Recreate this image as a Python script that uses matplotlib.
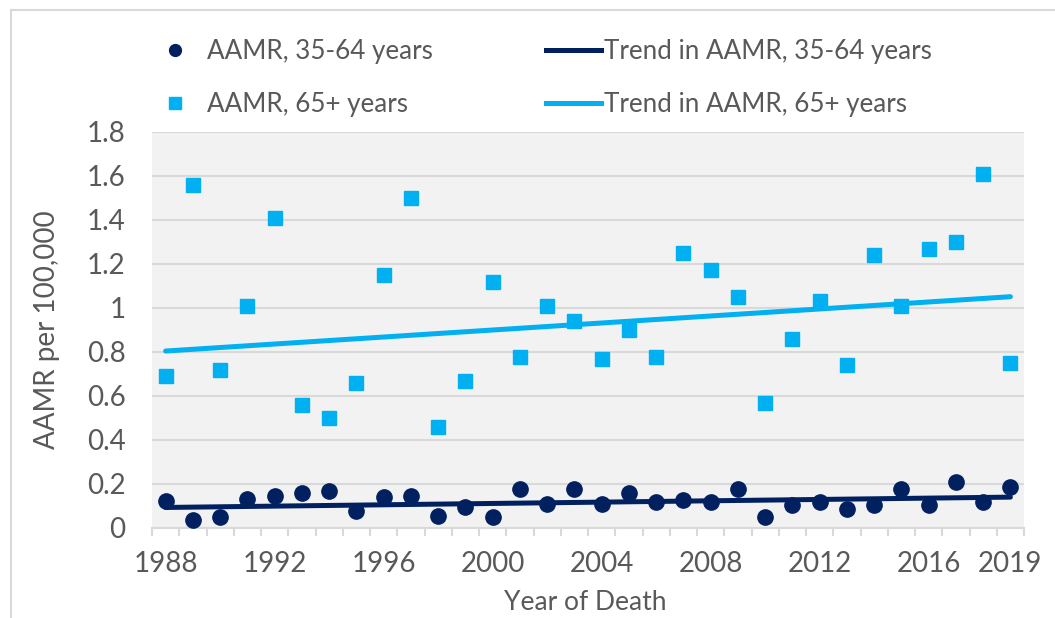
import matplotlib
matplotlib.use("Agg")
import matplotlib.pyplot as plt
from matplotlib.lines import Line2D
from matplotlib.ticker import FuncFormatter
import numpy as np

# ---- data -------------------------------------------------------------
years = list(range(1988, 2020))
aamr_35_64 = [0.120, 0.036, 0.047, 0.129, 0.145, 0.158, 0.167, 0.076,
              0.139, 0.145, 0.055, 0.095, 0.047, 0.177, 0.106, 0.177,
              0.106, 0.159, 0.117, 0.127, 0.117, 0.177, 0.047, 0.103,
              0.117, 0.085, 0.103, 0.177, 0.103, 0.206, 0.115, 0.186]
aamr_65_plus = [0.688, 1.559, 0.717, 1.008, 1.409, 0.559, 0.497, 0.659,
                1.150, 1.500, 0.458, 0.667, 1.118, 0.777, 1.008, 0.939,
                0.768, 0.898, 0.777, 1.250, 1.170, 1.048, 0.567, 0.858,
                1.029, 0.738, 1.239, 1.008, 1.268, 1.300, 1.609, 0.747]
trend_years = [1988, 2019]
trend_35_64 = [0.092, 0.139]
trend_65_plus = [0.803, 1.050]

y_ticks = [0, 0.2, 0.4, 0.6, 0.8, 1.0, 1.2, 1.4, 1.6, 1.8]
x_tick_years = [1988, 1992, 1996, 2000, 2004, 2008, 2012, 2016, 2019]

series_labels = ["AAMR, 35-64 years", "AAMR, 65+ years"]
trend_labels = ["Trend in AAMR, 35-64 years", "Trend in AAMR, 65+ years"]

# ---- style ------------------------------------------------------------
NAVY = "#002060"
CYAN = "#00B0F0"
TEXT = "#595959"
GRID = "#D9D9D9"
PANEL = "#F2F2F2"

plt.rcParams['font.family'] = ['Lato', 'DejaVu Sans']
FS_LEG = 18.7
FS_TICK = 20
FS_YLAB = 20
FS_XLAB = 19
LEG_PX = FS_LEG * 100 / 72

W, H = 1055, 618
fig = plt.figure(figsize=(W / 100, H / 100), dpi=100)
fig.patch.set_facecolor("white")

ax = fig.add_axes([152 / W, 1 - 527.7 / H, 872 / W, 396 / H])
ax.set_facecolor(PANEL)

# trend lines
ax.plot(trend_years, trend_35_64, color=NAVY, lw=3.6,
        solid_capstyle='round', zorder=3)
ax.plot(trend_years, trend_65_plus, color=CYAN, lw=3.6,
        solid_capstyle='round', zorder=3)

# yearly rates
ax.plot(years, aamr_35_64, ls='none', marker='o', ms=11, color=NAVY,
        mec=NAVY, zorder=4)
ax.plot(years, aamr_65_plus, ls='none', marker='s', ms=10.5, color=CYAN,
        mec=CYAN, zorder=4)

ax.set_xlim(1987.5, 2019.5)
ax.set_ylim(0, 1.8)

ax.set_yticks(y_ticks)
ax.yaxis.set_major_formatter(FuncFormatter(lambda v, _: f"{v:g}"))
ax.grid(axis='y', color=GRID, lw=1.5)
ax.set_axisbelow(True)
ax.tick_params(axis='y', length=0, pad=19, labelsize=FS_TICK,
               labelcolor=TEXT)

ax.set_xticks(x_tick_years)
ax.set_xticklabels([str(y) for y in x_tick_years])
ax.set_xticks(np.arange(1987.5, 2020, 1.0), minor=True)
ax.tick_params(axis='x', which='major', length=0, pad=17,
               labelsize=FS_TICK, labelcolor=TEXT)
ax.tick_params(axis='x', which='minor', length=6, width=1.5, color=GRID)

for side in ('top', 'right', 'left'):
    ax.spines[side].set_visible(False)
ax.spines['bottom'].set_color(GRID)
ax.spines['bottom'].set_linewidth(1.5)

fig.text(47 / W, 1 - 330 / H, "AAMR per 100,000", rotation=90,
         ha='center', va='center', fontsize=FS_YLAB, color=TEXT)
fig.text(585 / W, 1 - 603 / H, "Year of Death",
         ha='center', va='center', fontsize=FS_XLAB, color=TEXT)

# ---- legends ------------------------------------------------------------
h_circle = Line2D([], [], ls='none', marker='o', ms=8.5, color=NAVY)
h_square = Line2D([], [], ls='none', marker='s', ms=8, color=CYAN)
h_trend1 = Line2D([], [], color=NAVY, lw=3.6)
h_trend2 = Line2D([], [], color=CYAN, lw=3.6)

row_gap = 53
label_spacing = (row_gap - 0.96 * LEG_PX) / LEG_PX
leg_y = 1 - 78 / H

hl1 = 0.8
fig.legend([h_circle, h_square], series_labels, loc='center left',
           bbox_to_anchor=((175 - 0.5 * hl1 * LEG_PX) / W, leg_y),
           frameon=False, borderpad=0, borderaxespad=0,
           handlelength=hl1,
           handletextpad=(207 - (175 + 0.5 * hl1 * LEG_PX)) / LEG_PX,
           labelspacing=label_spacing, fontsize=FS_LEG, labelcolor=TEXT)

hl2 = 55 / LEG_PX
fig.legend([h_trend1, h_trend2], trend_labels, loc='center left',
           bbox_to_anchor=(546 / W, leg_y),
           frameon=False, borderpad=0, borderaxespad=0,
           handlelength=hl2, handletextpad=3 / LEG_PX,
           labelspacing=label_spacing, fontsize=FS_LEG, labelcolor=TEXT)

# ---- outer frame --------------------------------------------------------
fig.add_artist(Line2D([11 / W, 11 / W], [0, 1 - 10 / H],
                      transform=fig.transFigure, color=GRID, lw=1.5))
fig.add_artist(Line2D([11 / W, 1], [1 - 10 / H, 1 - 10 / H],
                      transform=fig.transFigure, color=GRID, lw=1.5))

fig.savefig("out.png", dpi=100)
